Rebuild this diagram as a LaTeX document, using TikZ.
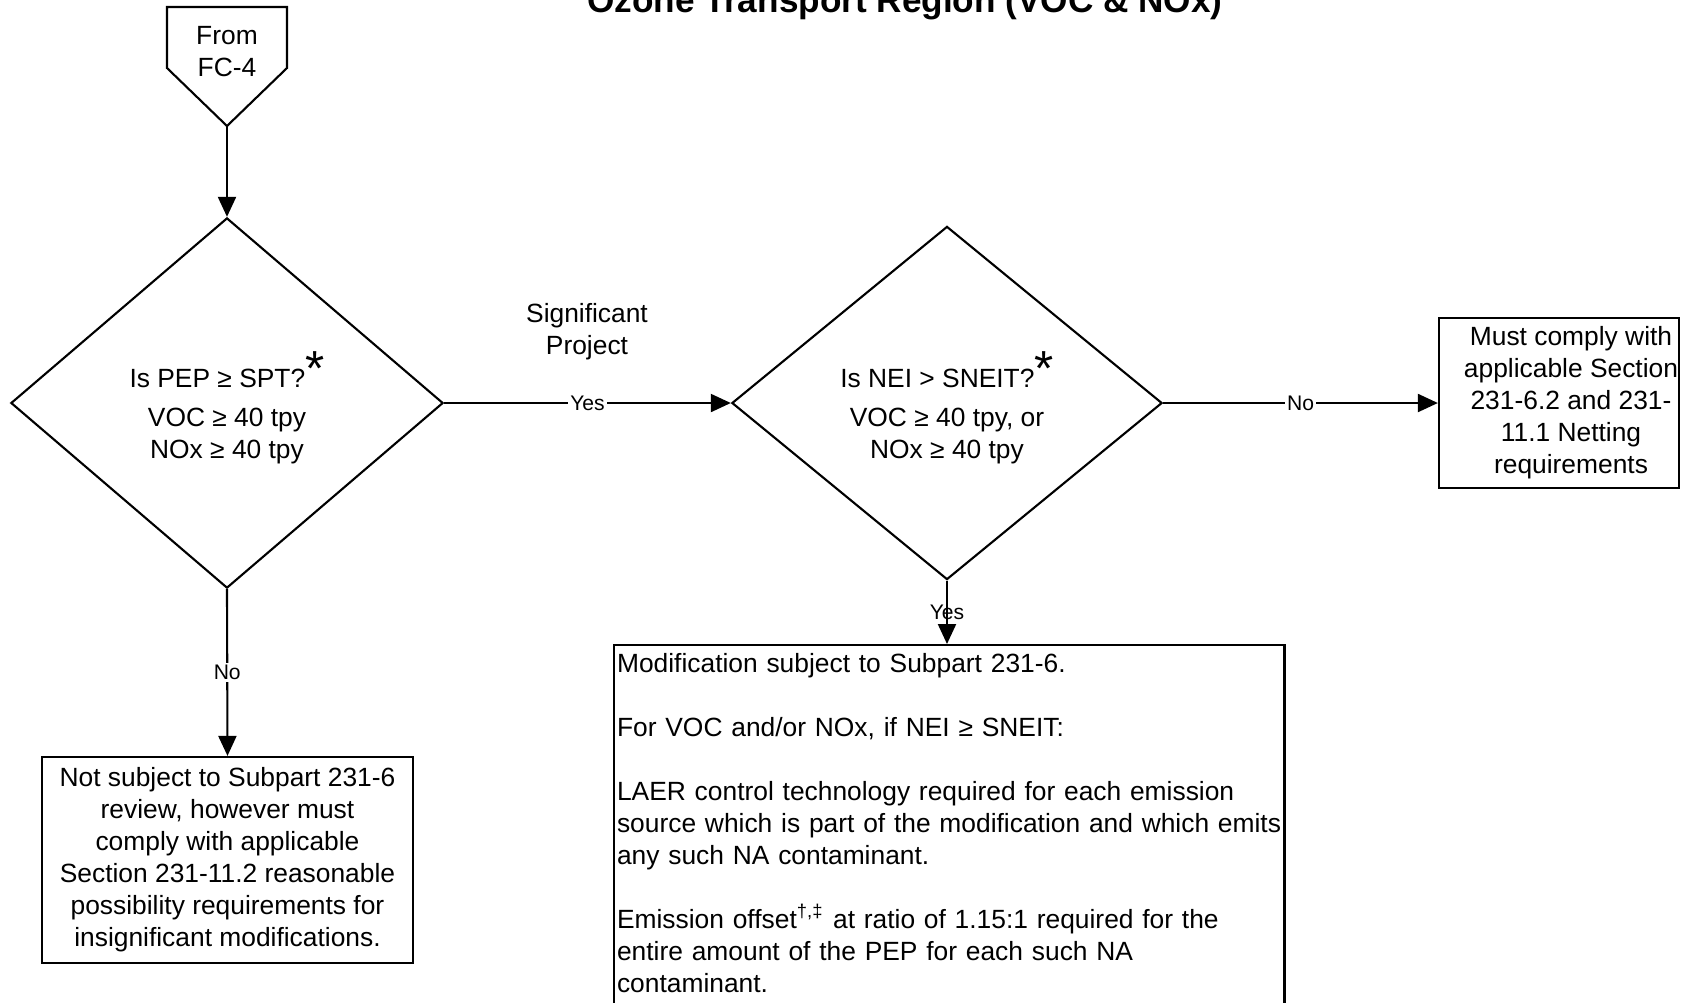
\documentclass[tikz,border=0pt]{standalone}
\usepackage{fontspec}
\setmainfont{Liberation Sans}
\usetikzlibrary{arrows.meta, shapes.geometric}
\tikzset{
  every picture/.style={line width=0.6pt},
  base/.style={font=\fontsize{7.5}{9.1}\selectfont},
  box/.style={draw, align=center, inner sep=2pt, base},
  decision/.style={draw, diamond, inner sep=0pt, align=center, base},
  arrow/.style={-{Triangle[length=2mm, width=1.8mm]}},
  lbl/.style={font=\fontsize{6}{7}\selectfont, fill=white, inner sep=0.6pt},
  title/.style={font=\fontsize{10}{12}\selectfont\bfseries},
}
\newcommand{\bigstar}{\rule{0pt}{0.45cm}\raisebox{0.6pt}{\fontsize{14}{14}\selectfont*}}
\newcommand{\ind}{\hspace*{0.24cm}}

\begin{document}
\begin{tikzpicture}[x=0.01cm, y=-0.01cm]
  \clip (0,0) rectangle (1699,1002);
  \node[title, anchor=base] (title) at (905,12) {Ozone Transport Region (VOC \& NOx)};
  % off-page connector
  \draw (167,7) -- (287,7) -- (287,68) -- (227,126) -- (167,68) -- cycle;
  \coordinate (fctip) at (227,126);
  \node[base, align=center] (from) at (227,52) {From\\FC-4};
  % decisions
  \node[decision, minimum width=4.32cm, minimum height=3.70cm] (pep) at (227,403)
    {Is PEP ≥ SPT?\bigstar\\[0.07cm] VOC ≥ 40 tpy\\ NOx ≥ 40 tpy};
  \node[decision, minimum width=4.30cm, minimum height=3.53cm] (nei) at (947,403)
    {Is NEI > SNEIT?\bigstar\\[0.07cm] VOC ≥ 40 tpy, or\\ NOx ≥ 40 tpy};
  % outcomes
  \node[box, inner xsep=0pt, minimum width=2.40cm, minimum height=1.70cm] (netting) at (1559,403)
    {\ind Must comply with\\\ind applicable Section\\\ind 231-6.2 and 231-\\\ind 11.1 Netting\\\ind requirements};
  \node[box, minimum width=3.71cm, minimum height=2.06cm] (insig) at (227.5,860)
    {Not subject to Subpart 231-6\\review, however must\\comply with applicable\\Section 231-11.2 reasonable\\possibility requirements for\\insignificant modifications.};
  \node[draw, base, anchor=north west, text width=6.64cm, align=left, inner xsep=0.03cm, inner ysep=0.08cm, text depth=3.6cm] (mod) at (613,644)
    {Modification subject to Subpart 231-6.\\[9.1pt]
     For VOC and/or NOx, if NEI ≥ SNEIT:\\[9.1pt]
     LAER control technology required for each emission\\
     \mbox{source which is part of the modification and which emits}\\
     any such NA contaminant.\\[9.1pt]
     Emission offset\textsuperscript{†,‡} at ratio of 1.15:1 required for the\\
     entire amount of the PEP for each such NA\\
     contaminant.};
  \node[base, align=center] (sig) at (587,332) {Significant\\Project};
  % connectors
  \draw[arrow] (fctip) -- (pep.north);
  \draw[arrow] (pep.east) -- node[lbl] (yes1) {Yes} (nei.west);
  \draw[arrow] (nei.east) -- node[lbl] (no1) {No} (netting.west);
  \draw[arrow] (pep.south) -- node[lbl] (no2) {No} (insig.north);
  \draw[arrow] (nei.south) -- node[lbl, fill=none] (yes2) {Yes} (mod.north -| nei.south);
\end{tikzpicture}
\end{document}
